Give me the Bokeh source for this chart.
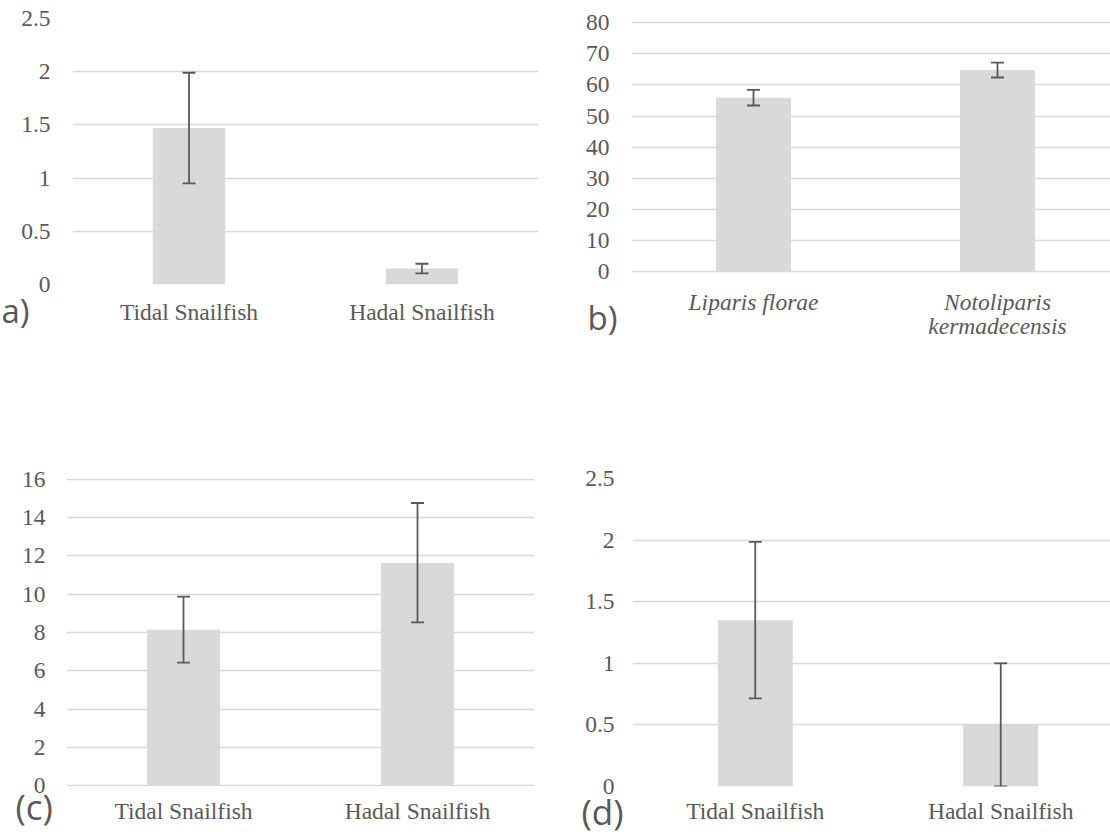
from bokeh.plotting import figure
from bokeh.layouts import column, row
from bokeh.models import (ColumnDataSource, Whisker, TeeHead, Range1d, FixedTicker,
                          NumeralTickFormatter, Label)
from bokeh.embed import file_html
from bokeh.resources import INLINE

# ---------------- data ----------------
cats_a = ["Tidal Snailfish", "Hadal Snailfish"]
vals_a = [1.47, 0.15]
errs_a = [0.52, 0.045]

cats_b = ["Liparis florae", "Notoliparis\nkermadecensis"]
vals_b = [55.9, 64.8]
errs_b = [2.5, 2.4]

cats_c = ["Tidal Snailfish", "Hadal Snailfish"]
vals_c = [8.15, 11.65]
errs_c = [1.73, 3.12]

cats_d = ["Tidal Snailfish", "Hadal Snailfish"]
vals_d = [1.35, 0.5]
errs_d = [0.635, 0.5]

ticks_a = [0, 0.5, 1, 1.5, 2, 2.5]
ticks_b = [0, 10, 20, 30, 40, 50, 60, 70, 80]
ticks_c = [0, 2, 4, 6, 8, 10, 12, 14, 16]
ticks_d = [0, 0.5, 1, 1.5, 2, 2.5]

TEXT = "#595959"
GRID = "#D9D9D9"
BAR = "#D9D9D9"
ERR = "#595959"
SERIF = "Liberation Serif, Times New Roman, serif"


def panel(cats, vals, errs, ticks, yr, fig_w, fig_h, left, right, top, bottom,
          cat_px, bar_px, x_standoff, y_standoff, tag, tag_side, tag_dx, tag_dy,
          tag_size, italic=False):
    frame_w = fig_w - left - right
    p = figure(width=fig_w, height=fig_h, output_backend="svg", toolbar_location=None,
               title=None, min_border_left=left, min_border_right=right,
               min_border_top=top, min_border_bottom=bottom,
               x_range=Range1d(0, frame_w / cat_px),
               y_range=Range1d(yr[0], yr[1]))
    xs = [i + 0.5 for i in range(len(cats))]
    src = ColumnDataSource(dict(x=xs, top=vals,
                                upper=[v + e for v, e in zip(vals, errs)],
                                lower=[v - e for v, e in zip(vals, errs)]))
    p.vbar(x="x", top="top", bottom=0, width=bar_px / cat_px, source=src,
           fill_color=BAR, line_color=None)
    w = Whisker(base="x", upper="upper", lower="lower", source=src, level="overlay",
                line_color=ERR, line_width=1.8,
                upper_head=TeeHead(size=13, line_color=ERR, line_width=1.8),
                lower_head=TeeHead(size=13, line_color=ERR, line_width=1.8))
    p.add_layout(w)

    p.outline_line_color = None
    p.xgrid.visible = False
    p.ygrid.grid_line_color = GRID
    p.ygrid.grid_line_width = 1.5
    p.ygrid.ticker = FixedTicker(ticks=ticks)

    for ax in (p.xaxis[0], p.yaxis[0]):
        ax.axis_line_color = None
        ax.major_tick_line_color = None
        ax.minor_tick_line_color = None
        ax.major_tick_out = 0
        ax.major_tick_in = 0
        ax.major_label_text_font = SERIF
        ax.major_label_text_font_size = "23.5px"
        ax.major_label_text_color = TEXT

    p.yaxis.ticker = FixedTicker(ticks=ticks)
    p.yaxis.formatter = NumeralTickFormatter(format="0.[0]")
    p.yaxis.major_label_standoff = y_standoff

    p.xaxis.ticker = FixedTicker(ticks=xs)
    p.xaxis.major_label_overrides = {x: c for x, c in zip(xs, cats)}
    p.xaxis.major_label_standoff = x_standoff
    p.xaxis.major_label_text_line_height = 0.95
    if italic:
        p.xaxis.major_label_text_font_style = "italic"

    # panel tag, anchored at the origin of the axes and kept in a side panel
    p.add_layout(Label(x=0, y=0, x_offset=tag_dx, y_offset=tag_dy, text=tag,
                       text_font="Open Sans", text_font_size=tag_size,
                       text_color=TEXT, text_baseline="alphabetic"), tag_side)
    return p


fa = panel(cats_a, vals_a, errs_a, ticks_a, (0, 2.5), 560, 400, 72, 22, 18, 116,
           233, 72.5, 14, 22, "a)", "below", -71, -26, "33px")
fb = panel(cats_b, vals_b, errs_b, ticks_b, (-4.18, 81.38), 550, 400, 71, 0, 18, 116,
           244, 75, 4, 22, "b)", "below", -44, -46, "33px", italic=True)
fc = panel(cats_c, vals_c, errs_c, ticks_c, (-0.052, 16.052), 560, 435, 66, 26, 78, 49,
           234, 73, 11, 21, "(c)", "above", -51, -21, "35px")
fd = panel(cats_d, vals_d, errs_d, ticks_d, (0, 2.5), 550, 435, 72, 0, 78, 49,
           245.5, 75, 11, 18, "(d)", "above", -51, -25, "35px")

layout = column(row(fa, fb), row(fc, fd))
open("out.html", "w").write(file_html(layout, INLINE))
